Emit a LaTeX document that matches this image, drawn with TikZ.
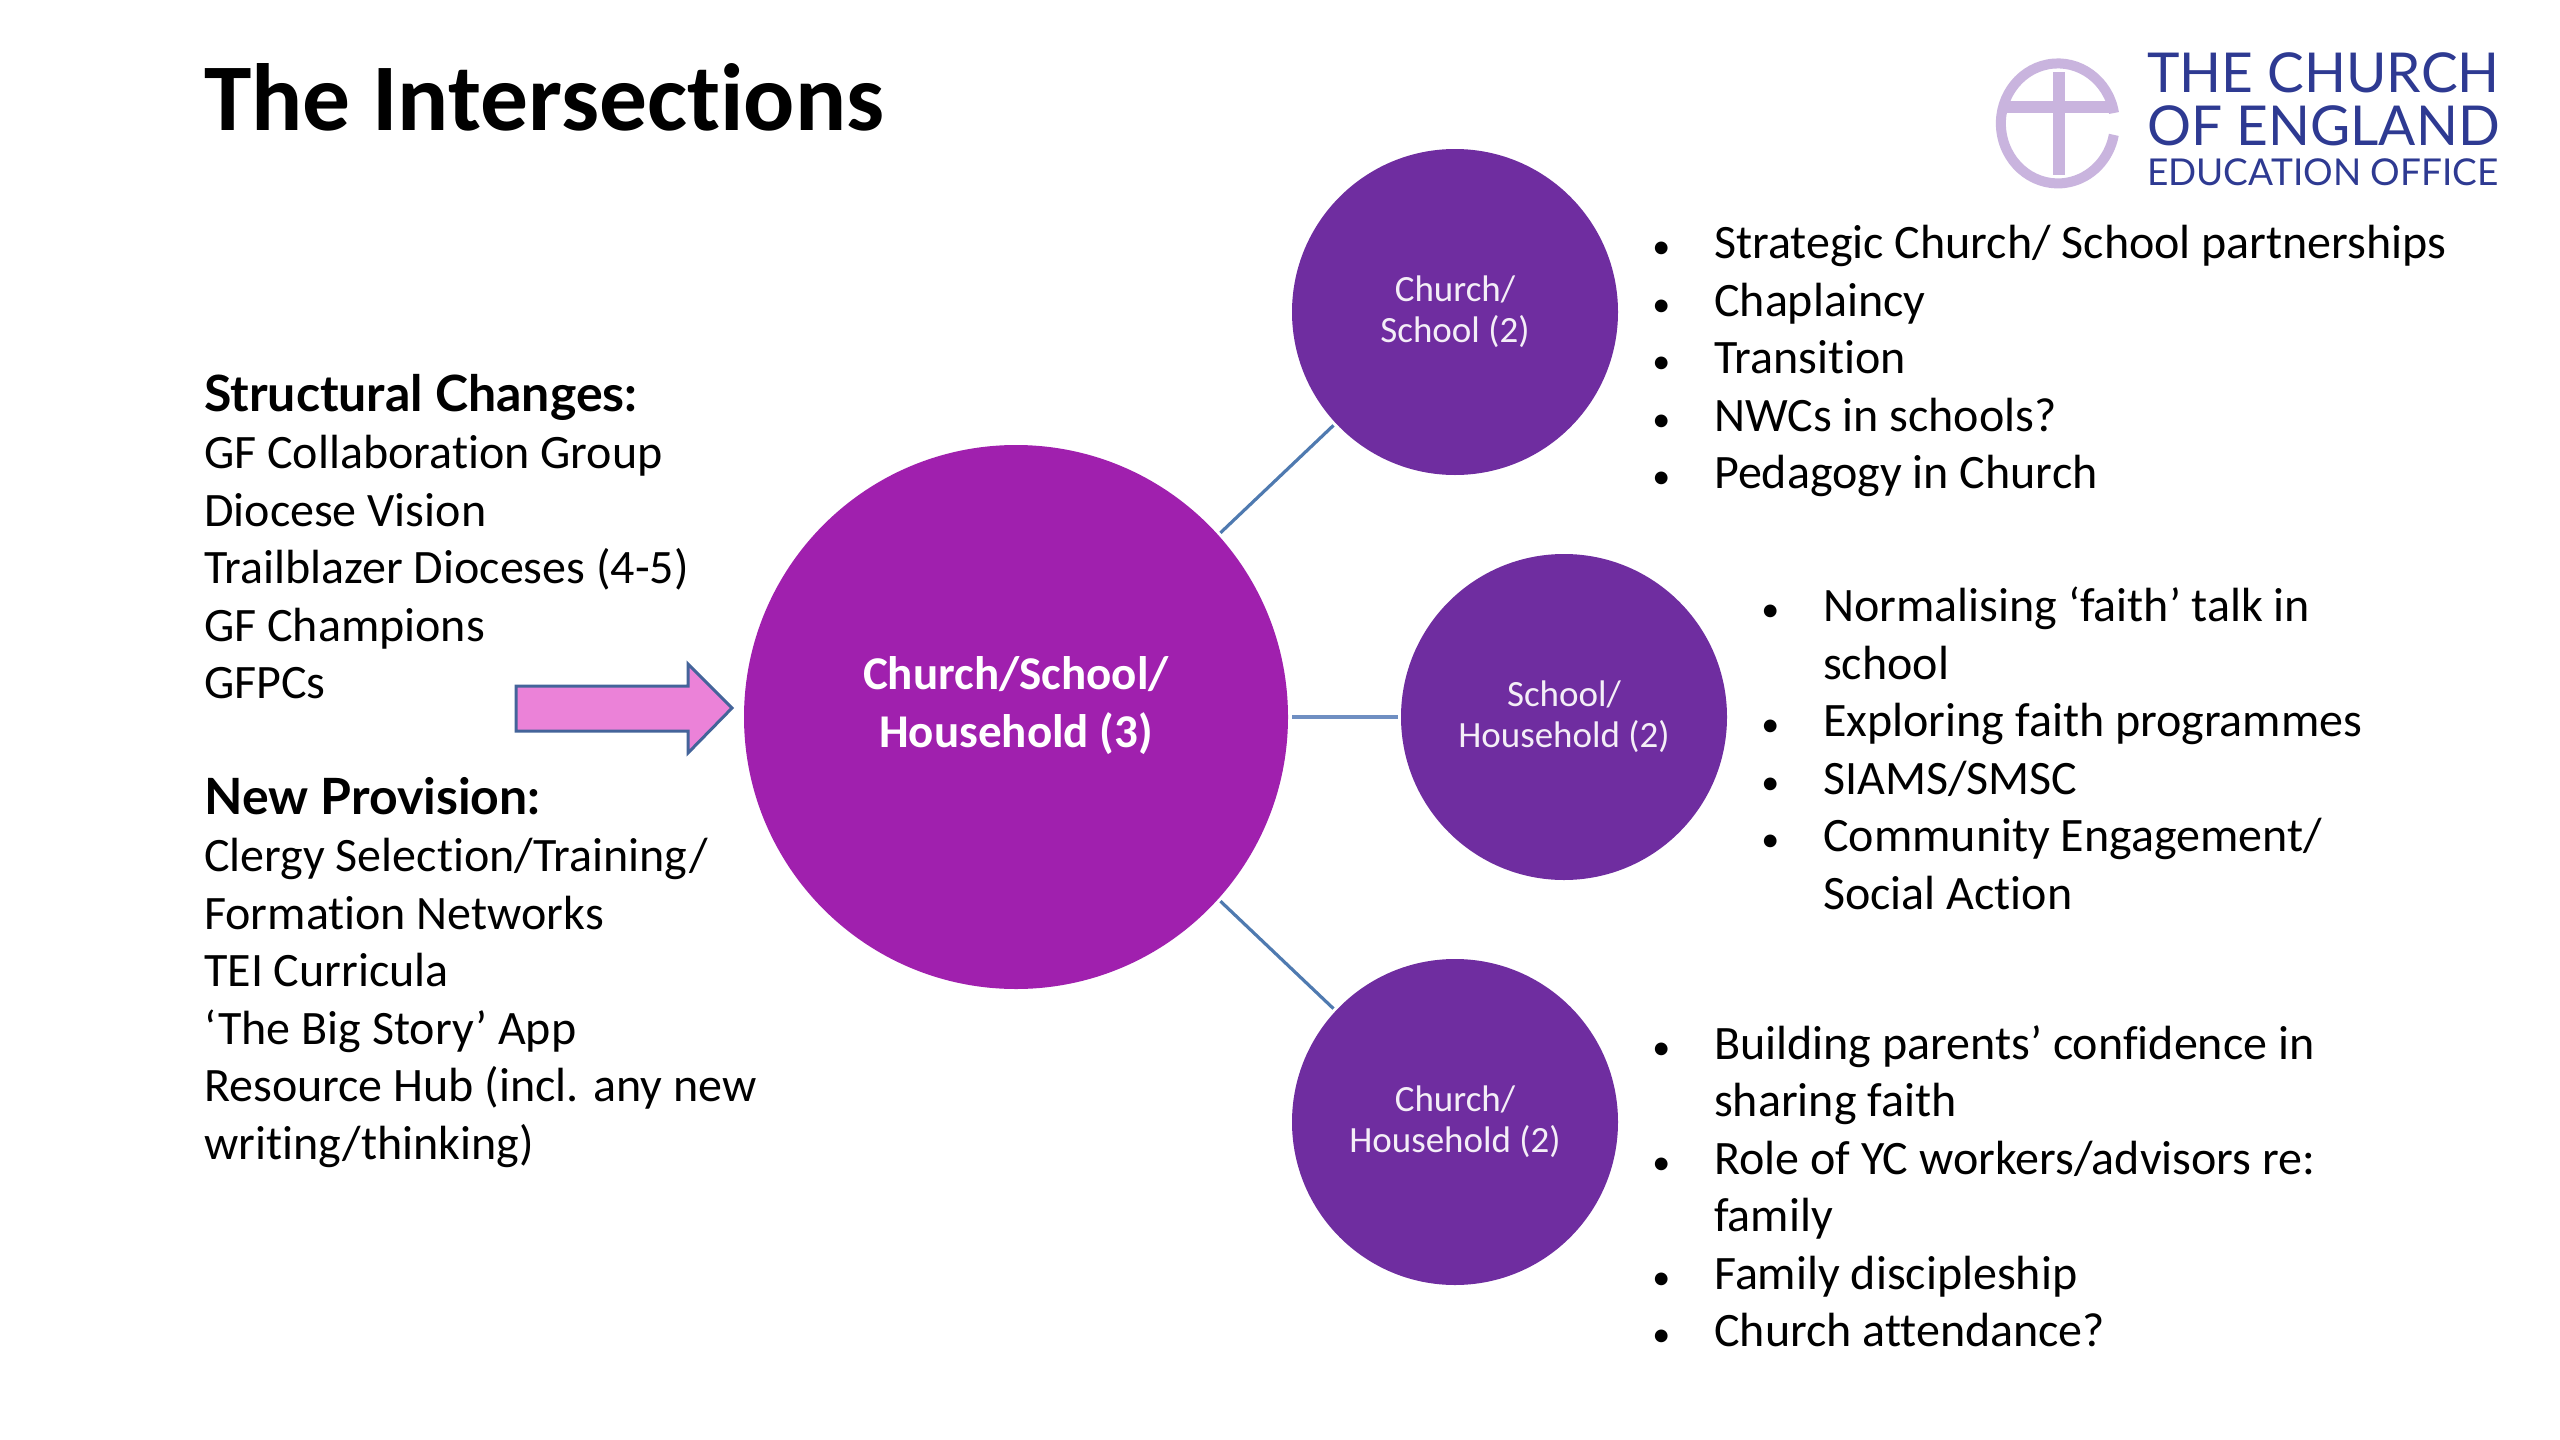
\documentclass[tikz,border=0pt]{standalone}
\usepackage{fontspec}
\setmainfont[Ligatures=NoCommon]{Carlito}
\newfontfamily\logofont{Lato}
\newfontfamily\headfont[Ligatures=NoCommon]{Lato}
\definecolor{bigpurple}{HTML}{A020AE}
\definecolor{smallpurple}{HTML}{6F2DA0}
\definecolor{linkblue}{HTML}{4F7AB0}
\definecolor{linksoft}{HTML}{6F8FC2}
\definecolor{arrowfill}{HTML}{EB82D8}
\definecolor{arrowline}{HTML}{44649A}
\definecolor{logotext}{HTML}{2E3A92}
\definecolor{logomark}{HTML}{C9B4DE}
\newcommand{\bul}{\makebox[0pt][r]{{\fontsize{36}{36}\selectfont\textbullet}\hspace{44pt}}}
\newcommand{\hd}[1]{{\headfont\bfseries\fontsize{50}{57.5}\selectfont #1}}
\tikzset{
  x=1pt,y=-1pt,
  hub/.style={circle,fill=bigpurple,minimum size=544pt,inner sep=0pt,text=white,align=center,font=\fontsize{47}{57.5}\selectfont\bfseries},
  sat/.style={circle,fill=smallpurple,minimum size=326pt,inner sep=0pt,text=white!92!smallpurple,align=center,font=\fontsize{37}{41}\selectfont},
  link/.style={draw=linkblue,line width=3.2pt,shorten >=3pt,shorten <=3pt},
  linkflat/.style={draw=linksoft,line width=4.2pt,shorten >=3pt,shorten <=4pt},
  body/.style={anchor=north west,inner sep=0pt,align=left,font=\fontsize{48}{57.5}\selectfont},
  logoline/.style={anchor=base west,inner sep=0pt,text=logotext}
}
\begin{document}
\begin{tikzpicture}
\useasboundingbox (0,0) rectangle (2560,1440);
\fill[white] (0,0) rectangle (2560,1440);
\node[anchor=base west,inner sep=0pt,font=\fontsize{95.5}{100}\selectfont\bfseries] (title) at (204,130) {The Intersections};

\node[hub] (big) at (1016,717) {Church/School/\\Household (3)\\[-28pt]\mbox{}};
\node[sat] (s1) at (1455,312) {Church/\\School (2)};
\node[sat] (s2) at (1564,717) {School/\\Household (2)};
\node[sat] (s3) at (1455,1122) {Church/\\Household (2)};
\draw[link] (big.42.6) -- (s1.223);
\draw[linkflat] (big.0) -- (s2.180);
\draw[link] (big.-42.6) -- (s3.137);

\node[body] (structural) at (204,374) {\hd{Structural Changes:}\\GF Collaboration Group\\Diocese Vision\\Trailblazer Dioceses (4-5)\\GF Champions\\GFPCs};
\node[body] (provision) at (204,777) {\hd{New Provision:}\\Clergy Selection/Training/\\Formation Networks\\TEI Curricula\\‘The Big Story’ App\\Resource Hub (incl. any new\\writing/thinking)};

\node[body] (list1) at (1714,225) {\bul Strategic Church/ School partnerships\\\bul Chaplaincy\\\bul Transition\\\bul NWCs in schools?\\\bul Pedagogy in Church};
\node[body] (list2) at (1823,587) {\bul Normalising ‘faith’ talk in\\school\\\bul Exploring faith programmes\\\bul SIAMS/SMSC\\\bul Community Engagement/\\Social Action};
\node[body] (list3) at (1714,1025) {\bul Building parents’ confidence in\\sharing faith\\\bul Role of YC workers/advisors re:\\family\\\bul Family discipleship\\\bul Church attendance?};

\draw[fill=arrowfill,draw=arrowline,line width=3pt,line join=miter]
  (516,686) -- (688,686) -- (688,664) -- (732,708) -- (688,753) -- (688,731) -- (516,731) -- cycle;

\draw[logomark,line width=10pt] (2114,113) arc[start angle=-10,end angle=-349,x radius=57,y radius=60];
\draw[logomark,line width=12pt] (2002,107) -- (2112,107);
\draw[logomark,line width=12pt] (2059,72) -- (2059,175);
\node[logoline,font=\logofont\fontsize{55}{55}\selectfont] (logo1) at (2147,92) {THE CHURCH};
\node[logoline,font=\logofont\fontsize{55}{55}\selectfont] (logo2) at (2147,145) {OF ENGLAND};
\node[logoline,font=\logofont\fontsize{37}{37}\selectfont] (logo3) at (2147,185) {EDUCATION OFFICE};
\end{tikzpicture}
\end{document}
